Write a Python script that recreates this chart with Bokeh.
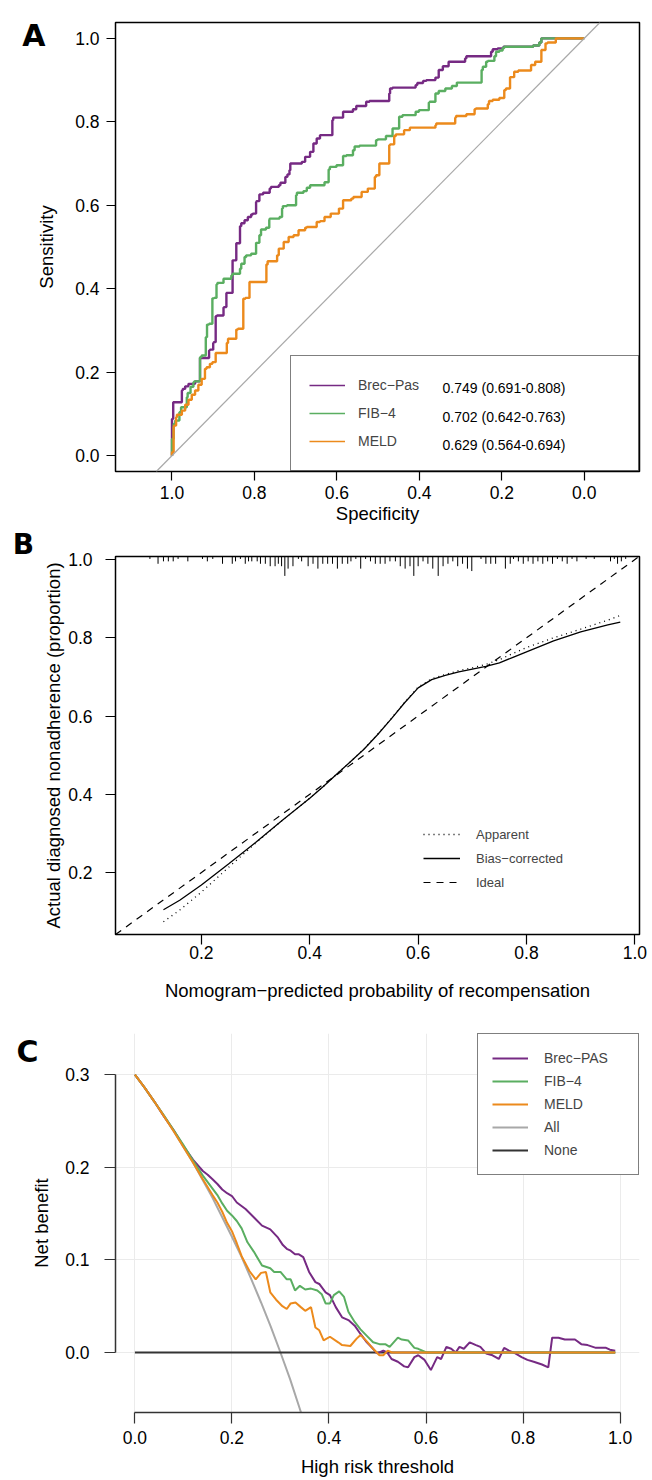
from bokeh.plotting import figure
from bokeh.layouts import column
from bokeh.models import (Range1d, FixedTicker, NumeralTickFormatter, Legend,
                          LegendItem, Label, Slope, LinearAxis)
from bokeh.core.properties import value
from bokeh.embed import file_html
from bokeh.resources import INLINE

FONT = "Liberation Sans"
LETTER_FONT = "DejaVu Sans"
PURPLE = "#762A83"
GREEN = "#5AAE61"
ORANGE = "#EC8A1C"
GRAY = "#A8A8A8"
NAN = float("nan")

# ---------------- Panel A: ROC curves (specificity, sensitivity) ----------------
roc_brec_spec = [1.000, 1.000, 0.997, 0.997, 0.976, 0.974, 0.968, 0.960, 0.944, 0.932,
                 0.925, 0.910, 0.908, 0.900, 0.899, 0.894, 0.891, 0.875, 0.874, 0.868,
                 0.867, 0.853, 0.853, 0.844, 0.843, 0.835, 0.832, 0.824, 0.816, 0.808,
                 0.804, 0.796, 0.795, 0.788, 0.788, 0.779, 0.763, 0.760, 0.741, 0.737,
                 0.725, 0.720, 0.715, 0.713, 0.712, 0.685, 0.677, 0.665, 0.657, 0.649,
                 0.641, 0.633, 0.611, 0.609, 0.585, 0.561, 0.553, 0.529, 0.521, 0.473,
                 0.471, 0.465, 0.409, 0.405, 0.391, 0.383, 0.361, 0.353, 0.343, 0.329,
                 0.327, 0.289, 0.286, 0.278, 0.226, 0.222, 0.210, 0.196, 0.124, 0.109,
                 0.104, 0.069, 0.000]
roc_brec_sens = [0.000, 0.088, 0.088, 0.128, 0.128, 0.156, 0.160, 0.166, 0.172, 0.178,
                 0.234, 0.234, 0.252, 0.254, 0.270, 0.272, 0.334, 0.336, 0.355, 0.356,
                 0.390, 0.390, 0.466, 0.468, 0.509, 0.509, 0.550, 0.557, 0.564, 0.572,
                 0.578, 0.580, 0.608, 0.610, 0.622, 0.626, 0.630, 0.640, 0.644, 0.648,
                 0.654, 0.668, 0.674, 0.684, 0.700, 0.700, 0.704, 0.716, 0.728, 0.748,
                 0.760, 0.768, 0.768, 0.804, 0.810, 0.824, 0.830, 0.838, 0.848, 0.850,
                 0.868, 0.880, 0.882, 0.888, 0.893, 0.898, 0.900, 0.906, 0.924, 0.933,
                 0.944, 0.944, 0.952, 0.957, 0.957, 0.968, 0.974, 0.976, 0.980, 0.983,
                 0.990, 1.000, 1.000]

roc_fib4_spec = [1.000, 1.000, 0.996, 0.996, 0.992, 0.982, 0.978, 0.964, 0.962, 0.955,
                 0.948, 0.946, 0.932, 0.928, 0.918, 0.915, 0.910, 0.902, 0.898, 0.892,
                 0.890, 0.875, 0.856, 0.853, 0.835, 0.832, 0.824, 0.820, 0.808, 0.796,
                 0.796, 0.788, 0.784, 0.772, 0.764, 0.763, 0.739, 0.733, 0.731, 0.721,
                 0.699, 0.697, 0.681, 0.673, 0.665, 0.630, 0.620, 0.617, 0.601, 0.585,
                 0.577, 0.561, 0.557, 0.545, 0.505, 0.501, 0.481, 0.465, 0.449, 0.441,
                 0.409, 0.401, 0.377, 0.375, 0.361, 0.353, 0.337, 0.321, 0.309, 0.289,
                 0.249, 0.246, 0.238, 0.234, 0.218, 0.214, 0.206, 0.198, 0.194, 0.124,
                 0.109, 0.104, 0.069, 0.000]
roc_fib4_sens = [0.000, 0.040, 0.040, 0.076, 0.076, 0.084, 0.104, 0.116, 0.140, 0.150,
                 0.165, 0.176, 0.178, 0.236, 0.240, 0.284, 0.314, 0.316, 0.377, 0.378,
                 0.410, 0.414, 0.424, 0.432, 0.436, 0.448, 0.460, 0.476, 0.480, 0.484,
                 0.506, 0.510, 0.528, 0.542, 0.546, 0.566, 0.568, 0.572, 0.592, 0.598,
                 0.600, 0.624, 0.630, 0.634, 0.642, 0.648, 0.655, 0.686, 0.692, 0.696,
                 0.718, 0.720, 0.732, 0.741, 0.743, 0.756, 0.758, 0.766, 0.784, 0.812,
                 0.816, 0.824, 0.828, 0.846, 0.848, 0.868, 0.874, 0.880, 0.886, 0.894,
                 0.894, 0.924, 0.932, 0.944, 0.946, 0.957, 0.968, 0.971, 0.977, 0.980,
                 0.983, 0.990, 1.000, 1.000]

roc_meld_spec = [1.000, 0.996, 0.995, 0.990, 0.988, 0.976, 0.968, 0.960, 0.952, 0.944,
                 0.936, 0.928, 0.920, 0.916, 0.908, 0.902, 0.894, 0.891, 0.867, 0.864,
                 0.859, 0.844, 0.840, 0.827, 0.827, 0.822, 0.812, 0.811, 0.771, 0.768,
                 0.760, 0.745, 0.741, 0.729, 0.717, 0.705, 0.693, 0.677, 0.673, 0.649,
                 0.641, 0.630, 0.615, 0.595, 0.585, 0.565, 0.560, 0.540, 0.525, 0.508,
                 0.505, 0.497, 0.489, 0.473, 0.471, 0.461, 0.457, 0.437, 0.423, 0.407,
                 0.361, 0.359, 0.341, 0.313, 0.311, 0.286, 0.266, 0.263, 0.234, 0.231,
                 0.222, 0.206, 0.194, 0.190, 0.180, 0.170, 0.160, 0.129, 0.119, 0.104,
                 0.094, 0.089, 0.069, 0.059, 0.000]
roc_meld_sens = [0.000, 0.008, 0.070, 0.072, 0.092, 0.098, 0.108, 0.122, 0.134, 0.146,
                 0.156, 0.170, 0.184, 0.208, 0.212, 0.220, 0.224, 0.246, 0.246, 0.270,
                 0.280, 0.280, 0.302, 0.304, 0.370, 0.376, 0.378, 0.416, 0.416, 0.458,
                 0.466, 0.466, 0.480, 0.496, 0.512, 0.524, 0.528, 0.540, 0.546, 0.548,
                 0.560, 0.562, 0.572, 0.580, 0.592, 0.612, 0.616, 0.620, 0.632, 0.640,
                 0.668, 0.672, 0.700, 0.700, 0.744, 0.746, 0.766, 0.770, 0.780, 0.786,
                 0.786, 0.792, 0.796, 0.796, 0.810, 0.814, 0.818, 0.830, 0.832, 0.842,
                 0.850, 0.853, 0.857, 0.876, 0.880, 0.907, 0.920, 0.923, 0.936, 0.944,
                 0.972, 0.988, 0.990, 1.000, 1.000]

roc_names = ["Brec\u2212Pas", "FIB\u22124", "MELD"]
roc_auc = ["0.749 (0.691-0.808)", "0.702 (0.642-0.763)", "0.629 (0.564-0.694)"]
roc_ticks = [0.0, 0.2, 0.4, 0.6, 0.8, 1.0]

# ---------------- Panel B: calibration ----------------
cal_pred = [0.13, 0.16, 0.20, 0.25, 0.30, 0.35, 0.400, 0.425, 0.450, 0.475,
            0.500, 0.525, 0.550, 0.575, 0.600, 0.625, 0.650, 0.675, 0.700, 0.725,
            0.750, 0.775, 0.800, 0.85, 0.90, 0.95, 0.973]
cal_bias = [0.105, 0.129, 0.168, 0.222, 0.277, 0.334, 0.390, 0.420, 0.452, 0.483,
            0.515, 0.552, 0.592, 0.634, 0.672, 0.693, 0.704, 0.713, 0.720, 0.727,
            0.736, 0.750, 0.764, 0.792, 0.815, 0.833, 0.840]
cal_apparent = [0.074, 0.104, 0.150, 0.213, 0.275, 0.334, 0.390, 0.420, 0.452, 0.483,
                0.516, 0.553, 0.593, 0.635, 0.674, 0.695, 0.706, 0.716, 0.723, 0.732,
                0.744, 0.760, 0.775, 0.800, 0.822, 0.845, 0.857]
rug_x = [0.105, 0.120, 0.130, 0.139, 0.148, 0.157, 0.175, 0.202, 0.211, 0.221,
         0.239, 0.257, 0.263, 0.272, 0.281, 0.287, 0.293, 0.303, 0.309, 0.318,
         0.327, 0.336, 0.342, 0.348, 0.354, 0.360, 0.369, 0.379, 0.385, 0.397,
         0.406, 0.415, 0.424, 0.433, 0.442, 0.451, 0.460, 0.470, 0.476, 0.485,
         0.494, 0.503, 0.512, 0.521, 0.530, 0.539, 0.548, 0.558, 0.567, 0.576,
         0.585, 0.592, 0.600, 0.609, 0.618, 0.627, 0.637, 0.646, 0.655, 0.664,
         0.673, 0.682, 0.691, 0.699, 0.716, 0.725, 0.734, 0.743, 0.761, 0.770,
         0.776, 0.785, 0.794, 0.803, 0.812, 0.821, 0.830, 0.839, 0.848, 0.857,
         0.866, 0.875, 0.884, 0.893, 0.910, 0.925, 0.955, 0.962, 0.968, 0.975, 0.983]
rug_n = [1, 3, 2, 2, 2, 1, 2, 1, 2, 1,
         3, 3, 2, 1, 3, 2, 2, 2, 3, 3,
         4, 4, 3, 4, 8, 5, 4, 1, 2, 4,
         3, 5, 3, 3, 3, 5, 3, 3, 2, 1,
         5, 1, 2, 3, 3, 3, 2, 2, 4, 5,
         4, 8, 4, 2, 3, 5, 8, 4, 3, 2,
         4, 3, 5, 6, 1, 3, 3, 3, 5, 3,
         1, 2, 3, 2, 3, 2, 3, 2, 3, 1,
         2, 3, 1, 2, 1, 1, 2, 1, 3, 2, 1]
cal_ticks = [0.2, 0.4, 0.6, 0.8, 1.0]

# ---------------- Panel C: decision curves ----------------
dca_brec_t = [0.00, 0.02, 0.04, 0.06, 0.08, 0.10, 0.12, 0.14, 0.15, 0.16,
              0.17, 0.18, 0.19, 0.20, 0.21, 0.228, 0.245, 0.262, 0.279, 0.295,
              0.305, 0.313, 0.321, 0.330, 0.338, 0.347, 0.359, 0.372, 0.380, 0.393,
              0.402, 0.414, 0.427, 0.440, 0.453, 0.465, 0.478, 0.491, 0.499, 0.512,
              0.520, 0.529, 0.542, 0.555, 0.563, 0.576, 0.584, 0.597, 0.610, 0.623,
              0.631, 0.642, 0.652, 0.661, 0.669, 0.678, 0.690, 0.703, 0.712, 0.724,
              0.737, 0.750, 0.761, 0.771, 0.784, 0.797, 0.809, 0.822, 0.839, 0.852,
              0.860, 0.873, 0.886, 0.907, 0.920, 0.933, 0.950, 0.971, 0.979, 0.990]
dca_brec_nb = [0.300, 0.286, 0.271, 0.255, 0.240, 0.223, 0.208, 0.196, 0.192, 0.187,
               0.182, 0.176, 0.172, 0.169, 0.162, 0.155, 0.146, 0.137, 0.133, 0.124,
               0.116, 0.112, 0.110, 0.106, 0.106, 0.103, 0.087, 0.076, 0.074, 0.065,
               0.062, 0.049, 0.038, 0.035, 0.029, 0.020, 0.011, 0.004, -0.001, 0.002,
               0.000, -0.007, -0.010, -0.015, -0.016, -0.005, -0.003, -0.008, -0.019, -0.005,
               -0.007, 0.006, 0.004, 0.000, 0.006, 0.004, 0.011, 0.008, 0.006, -0.001,
               -0.003, -0.007, 0.005, 0.002, -0.001, -0.005, -0.008, -0.010, -0.013, -0.016,
               0.016, 0.016, 0.014, 0.014, 0.009, 0.008, 0.005, 0.005, 0.003, 0.002]

dca_fib4_t = [0.00, 0.02, 0.04, 0.06, 0.08, 0.10, 0.12, 0.14, 0.16, 0.17,
              0.18, 0.19, 0.20, 0.21, 0.22, 0.232, 0.245, 0.262, 0.279, 0.287,
              0.300, 0.313, 0.321, 0.330, 0.340, 0.351, 0.363, 0.376, 0.385, 0.393,
              0.402, 0.410, 0.421, 0.431, 0.440, 0.453, 0.465, 0.478, 0.491, 0.504,
              0.516, 0.525, 0.542, 0.550, 0.563, 0.576, 0.584, 0.601, 0.990]
dca_fib4_nb = [0.300, 0.286, 0.271, 0.256, 0.240, 0.224, 0.207, 0.191, 0.177, 0.170,
               0.161, 0.153, 0.148, 0.142, 0.134, 0.119, 0.109, 0.094, 0.091, 0.087,
               0.087, 0.079, 0.079, 0.067, 0.072, 0.068, 0.069, 0.067, 0.063, 0.053,
               0.053, 0.062, 0.066, 0.060, 0.044, 0.033, 0.025, 0.018, 0.011, 0.009,
               0.009, 0.006, 0.016, 0.014, 0.013, 0.005, 0.004, 0.000, 0.000]

dca_meld_t = [0.00, 0.02, 0.04, 0.06, 0.08, 0.10, 0.12, 0.14, 0.16, 0.17,
              0.18, 0.19, 0.20, 0.21, 0.22, 0.236, 0.249, 0.260, 0.270, 0.279,
              0.291, 0.304, 0.313, 0.321, 0.331, 0.342, 0.351, 0.363, 0.372, 0.380,
              0.389, 0.402, 0.419, 0.427, 0.444, 0.457, 0.465, 0.478, 0.491, 0.504,
              0.512, 0.521, 0.530, 0.990]
dca_meld_nb = [0.300, 0.286, 0.271, 0.255, 0.239, 0.222, 0.205, 0.187, 0.170, 0.162,
               0.152, 0.140, 0.131, 0.118, 0.104, 0.088, 0.079, 0.086, 0.087, 0.065,
               0.057, 0.050, 0.047, 0.053, 0.054, 0.049, 0.045, 0.049, 0.027, 0.024,
               0.013, 0.017, 0.011, 0.008, 0.007, 0.015, 0.019, 0.012, 0.004, -0.003,
               -0.003, 0.002, 0.000, 0.000]

dca_all_t = [0.00, 0.02, 0.04, 0.06, 0.08, 0.10, 0.12, 0.14, 0.16, 0.18,
             0.20, 0.22, 0.24, 0.26, 0.28, 0.30, 0.32, 0.34, 0.36]
dca_all_nb = [0.300, 0.286, 0.271, 0.255, 0.239, 0.222, 0.205, 0.186, 0.167, 0.146,
              0.125, 0.103, 0.079, 0.054, 0.028, 0.000, -0.029, -0.061, -0.094]
dca_none_t = [0.00, 0.99]
dca_none_nb = [0.0, 0.0]
dca_names = ["Brec\u2212PAS", "FIB\u22124", "MELD", "All", "None"]
dca_xticks = [0.0, 0.2, 0.4, 0.6, 0.8, 1.0]
dca_yticks = [0.0, 0.1, 0.2, 0.3]


def make_fig(h, xr, yr, ml, mr, mt, mb):
    p = figure(width=652, height=h, x_range=xr, y_range=yr,
               output_backend="svg", toolbar_location=None,
               min_border_left=ml, min_border_right=mr,
               min_border_top=mt, min_border_bottom=mb)
    p.background_fill_color = "white"
    p.border_fill_color = "white"
    return p


def style_axis(ax, ticks, tick_len, standoff, label_standoff, color="black"):
    ax.ticker = FixedTicker(ticks=ticks, minor_ticks=[])
    ax.formatter = NumeralTickFormatter(format="0.0")
    ax.major_tick_out = tick_len
    ax.major_tick_in = 0
    ax.minor_tick_out = 0
    ax.minor_tick_in = 0
    ax.major_tick_line_color = color
    ax.major_tick_line_width = 1.2
    ax.major_label_standoff = standoff
    ax.axis_label_standoff = label_standoff
    ax.major_label_text_font = FONT
    ax.major_label_text_font_size = "17.5px"
    ax.major_label_text_color = "black"
    ax.axis_label_text_font = FONT
    ax.axis_label_text_font_size = "18.5px"
    ax.axis_label_text_font_style = "normal"
    ax.axis_label_text_color = "black"


def letter_axis(p, text, ypos, standoff):
    # panel letter shown as the only label of an outer, line-less left axis
    ax = LinearAxis(ticker=FixedTicker(ticks=[ypos], minor_ticks=[]),
                    major_label_overrides={ypos: text},
                    axis_line_color=None, major_tick_line_color=None,
                    major_tick_out=0, major_tick_in=0, minor_tick_out=0, minor_tick_in=0,
                    major_label_standoff=standoff,
                    major_label_text_font=LETTER_FONT, major_label_text_font_size="30px",
                    major_label_text_font_style="bold", major_label_text_color="black")
    p.add_layout(ax, "left")


# ======================= Panel A =======================
pA = make_fig(526, Range1d(1.137, -0.134), Range1d(-0.038, 1.038), 108, 13, 22, 55)
pA.grid.visible = False
pA.outline_line_color = "black"
pA.outline_line_width = 1.5
pA.xaxis.axis_label = "Specificity"
pA.yaxis.axis_label = "Sensitivity"
style_axis(pA.xaxis[0], roc_ticks, 9, 5, 1)
style_axis(pA.yaxis[0], roc_ticks, 9, 7, 15)
pA.xaxis.axis_line_color = None
pA.yaxis.axis_line_color = None
letter_axis(pA, "A", 1.008, -12)

pA.add_layout(Slope(gradient=-1, y_intercept=1, line_color=GRAY, line_width=1.2))
pA.step(roc_brec_spec, roc_brec_sens, mode="before", line_color=PURPLE, line_width=2.4)
pA.step(roc_fib4_spec, roc_fib4_sens, mode="before", line_color=GREEN, line_width=2.4)
pA.step(roc_meld_spec, roc_meld_sens, mode="before", line_color=ORANGE, line_width=2.4)

proxyA = [pA.line(x=[NAN], y=[NAN], line_color=c, line_width=1.3)
          for c in (PURPLE, GREEN, ORANGE)]
legA = Legend(items=[LegendItem(label=n, renderers=[r]) for n, r in zip(roc_names, proxyA)],
              location="bottom_right", margin=0, padding=18, spacing=6,
              label_height=22, glyph_height=22, glyph_width=36, label_standoff=13,
              label_width=262, label_text_font=FONT, label_text_font_size="14px",
              border_line_color="black", border_line_width=1.5,
              background_fill_alpha=0.0)
pA.add_layout(legA)
pA.text(x=[0.3437] * 3, y=[0.161, 0.0936, 0.0264], text=roc_auc,
        text_font=value(FONT), text_font_size="14px", text_baseline="middle",
        text_align="left", text_color="black")

# ======================= Panel B =======================
pB = make_fig(478, Range1d(0.0415, 1.0085), Range1d(0.0416, 1.0077), 115, 6, 30, 70)
pB.grid.visible = False
pB.outline_line_color = "black"
pB.outline_line_width = 1.5
pB.xaxis.axis_label = "Nomogram\u2212predicted probability of recompensation"
pB.yaxis.axis_label = "Actual diagnosed nonadherence (proportion)"
style_axis(pB.xaxis[0], cal_ticks, 10, 1, 18)
style_axis(pB.yaxis[0], cal_ticks, 10, 13, 1)
pB.xaxis.axis_line_color = None
pB.yaxis.axis_line_color = None

top = pB.y_range.end
pB.segment(x0=rug_x, y0=[top] * len(rug_x), x1=rug_x,
           y1=[top - 0.0062 * n for n in rug_n], line_color="black", line_width=1)
ideal_x = [pB.x_range.start, pB.x_range.end]
rB_ideal = pB.line(ideal_x, ideal_x, line_color="black", line_width=1.2, line_dash="7 6")
rB_app = pB.line(cal_pred, cal_apparent, line_color="black", line_width=1.3, line_dash="1 4")
rB_bias = pB.line(cal_pred, cal_bias, line_color="black", line_width=1.3)
legB = Legend(items=[LegendItem(label="Apparent", renderers=[rB_app]),
                     LegendItem(label="Bias\u2212corrected", renderers=[rB_bias]),
                     LegendItem(label="Ideal", renderers=[rB_ideal])],
              location=(308, 42), margin=0, padding=0, spacing=4,
              label_height=20, glyph_height=20, glyph_width=37, label_standoff=16,
              label_text_font=FONT, label_text_font_size="13px",
              border_line_color=None, background_fill_alpha=0.0)
pB.add_layout(legB)
# the "B" letter sits above the frame; a label in the left side panel is not clipped
pB.add_layout(Label(x=-0.148, y=1.0383, text="B", text_font=LETTER_FONT,
                    text_font_size="28px", text_font_style="bold", text_color="black",
                    text_baseline="middle"), "left")

# ======================= Panel C =======================
pC = make_fig(476, Range1d(-0.04, 1.04), Range1d(-0.0648, 0.3445), 115, 5, 29, 68)
pC.outline_line_color = None
pC.xaxis.axis_label = "High risk threshold"
pC.yaxis.axis_label = "Net benefit"
style_axis(pC.xaxis[0], dca_xticks, 11, 7, 9, color="#333333")
style_axis(pC.yaxis[0], dca_yticks, 11, 15, 10, color="#333333")
pC.xaxis.bounds = (0, 1)
pC.yaxis.bounds = (0, 0.3)
for ax in (pC.xaxis[0], pC.yaxis[0]):
    ax.axis_line_color = "#333333"
    ax.axis_line_width = 1.5
letter_axis(pC, "C", 0.325, -10)
pC.xgrid.ticker = FixedTicker(ticks=dca_xticks)
pC.ygrid.ticker = FixedTicker(ticks=dca_yticks)
pC.grid.grid_line_color = "#EBEBEB"
pC.grid.grid_line_width = 1

rC_all = pC.line(dca_all_t, dca_all_nb, line_color=GRAY, line_width=2)
rC_none = pC.line(dca_none_t, dca_none_nb, line_color="#333333", line_width=2)
rC_brec = pC.line(dca_brec_t, dca_brec_nb, line_color=PURPLE, line_width=2)
rC_fib = pC.line(dca_fib4_t, dca_fib4_nb, line_color=GREEN, line_width=2)
rC_meld = pC.line(dca_meld_t, dca_meld_nb, line_color=ORANGE, line_width=2)
legC = Legend(items=[LegendItem(label=n, renderers=[r]) for n, r in
                     zip(dca_names, [rC_brec, rC_fib, rC_meld, rC_all, rC_none])],
              location="top_right", margin=0, padding=14, spacing=3,
              label_height=20, glyph_height=20, glyph_width=36, label_standoff=16,
              label_width=80, label_text_font=FONT, label_text_font_size="14px",
              border_line_color="black", border_line_width=1.5,
              background_fill_color="white", background_fill_alpha=1.0)
pC.add_layout(legC)

layout = column(pA, pB, pC, spacing=0)
open("out.html", "w").write(file_html(layout, INLINE))
